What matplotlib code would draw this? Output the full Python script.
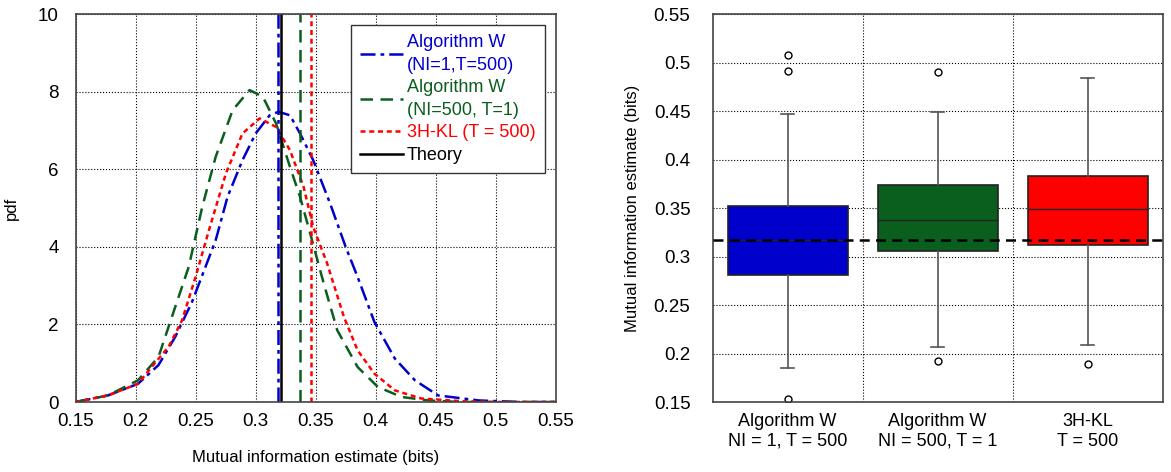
import numpy as np
import matplotlib
matplotlib.use('Agg')
import matplotlib.pyplot as plt

plt.rcParams['font.family'] = ['Liberation Sans', 'DejaVu Sans']

# Left panel: estimated pdfs
x_w1 = [0.15, 0.177, 0.202, 0.219, 0.233, 0.247, 0.2667, 0.2766, 0.289, 0.300, 0.3117,
        0.319, 0.3286, 0.337, 0.348, 0.362, 0.375, 0.385, 0.399, 0.416, 0.4327, 0.452,
        0.486, 0.52, 0.55]
y_w1 = [0.0, 0.17, 0.47, 0.95, 1.68, 2.58, 4.17, 5.29, 6.23, 6.92, 7.39,
        7.48, 7.39, 6.92, 6.23, 5.12, 4.0, 3.22, 2.06, 1.12, 0.56, 0.17,
        0.04, 0.0, 0.0]

x_w500 = [0.15, 0.177, 0.202, 0.219, 0.233, 0.2442, 0.2555, 0.2667, 0.2808, 0.2949,
          0.306, 0.317, 0.3286, 0.337, 0.3455, 0.3568, 0.368, 0.385, 0.4018, 0.4215,
          0.444, 0.47, 0.55]
y_w500 = [0.0, 0.17, 0.56, 1.16, 2.45, 3.48, 5.03, 6.32, 7.52, 8.04,
          7.87, 7.18, 6.06, 5.29, 4.34, 3.05, 1.85, 0.90, 0.39, 0.13,
          0.04, 0.0, 0.0]

x_kl = [0.15, 0.177, 0.202, 0.2133, 0.2274, 0.2386, 0.2499, 0.2611, 0.2752, 0.289,
        0.3033, 0.317, 0.3286, 0.3399, 0.348, 0.3596, 0.3736, 0.385, 0.399, 0.416,
        0.438, 0.472, 0.50, 0.55]
y_kl = [0.0, 0.17, 0.47, 0.9, 1.42, 2.1, 3.22, 4.43, 5.89, 6.92,
        7.31, 7.09, 6.49, 5.55, 4.51, 3.57, 2.19, 1.33, 0.73, 0.30,
        0.09, 0.02, 0.0, 0.0]

mean_w1 = 0.319
mean_w500 = 0.3373
mean_kl = 0.3463
theory_left = 0.321

# Right panel: box plot statistics
box_labels = ['Algorithm W\nNI = 1, T = 500', 'Algorithm W\nNI = 500, T = 1', '3H-KL\nT = 500']
q1 = [0.2814, 0.3061, 0.3123]
med = [0.3175, 0.3381, 0.3491]
q3 = [0.3522, 0.3736, 0.3835]
wlo = [0.1847, 0.2067, 0.2092]
whi = [0.4468, 0.4489, 0.4843]
fliers = [[0.5077, 0.4912, 0.1531], [0.4902, 0.1926], [0.1892]]
theory_right = 0.3168

blue = '#0000cc'
green = '#0a5e1e'
red = '#ff0000'
box_colors = [blue, green, red]

fig = plt.figure(figsize=(11.71, 4.72), dpi=100)
ax1 = fig.add_axes([0.0646, 0.1483, 0.4099, 0.822])
ax2 = fig.add_axes([0.6086, 0.1483, 0.3843, 0.822])

for ax in (ax1, ax2):
    for s in ax.spines.values():
        s.set_color('#444444')
        s.set_linewidth(1.2)
    ax.tick_params(length=0, labelsize=13.5)

# ---- left
l1, = ax1.plot(x_w1, y_w1, color=blue, ls=(0, (6, 2, 1.5, 2)), lw=1.8,
               label='Algorithm W\n(NI=1,T=500)')
l2, = ax1.plot(x_w500, y_w500, color=green, ls=(0, (5, 3)), lw=1.8,
               label='Algorithm W\n(NI=500, T=1)')
l3, = ax1.plot(x_kl, y_kl, color=red, ls=(0, (2, 1.5)), lw=1.8,
               label='3H-KL (T = 500)')
ax1.axvline(mean_w1, color=blue, ls=(0, (6, 2, 1.5, 2)), lw=1.8)
ax1.axvline(mean_w500, color=green, ls=(0, (5, 3)), lw=1.8)
ax1.axvline(mean_kl, color=red, ls=(0, (2, 1.5)), lw=1.8)
l4 = ax1.axvline(theory_left, color='black', lw=1.8, label='Theory')

ax1.set_xlim(0.15, 0.55)
ax1.set_ylim(0, 10)
ax1.set_xticks(np.arange(0.15, 0.551, 0.05))
ax1.set_xticklabels(['0.15', '0.2', '0.25', '0.3', '0.35', '0.4', '0.45', '0.5', '0.55'])
ax1.set_yticks([0, 2, 4, 6, 8, 10])
ax1.tick_params(axis='y', pad=12)
ax1.tick_params(axis='x', pad=8)
ax1.grid(True, color='black', ls=':', lw=0.8)
ax1.set_axisbelow(True)
ax1.set_xlabel('Mutual information estimate (bits)', fontsize=12, labelpad=14)
ax1.set_ylabel('pdf', fontsize=12, labelpad=14)

leg = ax1.legend(handles=[l1, l2, l3, l4], loc='upper right', bbox_to_anchor=(0.977, 0.972),
                 fontsize=13, frameon=True, fancybox=False, framealpha=1,
                 edgecolor='#333333', handlelength=2.4, handletextpad=0.2,
                 borderpad=0.5, labelspacing=0.3, borderaxespad=0)
leg.get_frame().set_linewidth(1.0)
for txt, c in zip(leg.get_texts(), [blue, green, red, 'black']):
    txt.set_color(c)
    txt.set_linespacing(1.45)

# ---- right
stats = []
for i in range(3):
    stats.append(dict(med=med[i], q1=q1[i], q3=q3[i], whislo=wlo[i], whishi=whi[i],
                      fliers=fliers[i], label=box_labels[i]))
bp = ax2.bxp(stats, positions=[1, 2, 3], widths=0.8, patch_artist=True,
             capwidths=0.09,
             boxprops=dict(edgecolor='#222222', linewidth=1.2),
             medianprops=dict(color='#222222', linewidth=1.0),
             whiskerprops=dict(color='#555555', linewidth=1.2),
             capprops=dict(color='#555555', linewidth=1.2),
             flierprops=dict(marker='o', markerfacecolor='white', markeredgecolor='black',
                             markersize=5, markeredgewidth=1.0))
for patch, c in zip(bp['boxes'], box_colors):
    patch.set_facecolor(c)
    patch.set_zorder(2)

ax2.axhline(theory_right, color='black', ls=(0, (4, 2.5)), lw=1.8, zorder=3)

ax2.set_xlim(0.5, 3.5)
ax2.set_ylim(0.15, 0.55)
ax2.set_yticks(np.arange(0.15, 0.551, 0.05))
ax2.set_yticklabels(['0.15', '0.2', '0.25', '0.3', '0.35', '0.4', '0.45', '0.5', '0.55'])
ax2.set_xticks([1.5, 2.5], minor=True)
ax2.tick_params(axis='x', which='major', labelsize=13, pad=8)
ax2.tick_params(axis='x', which='minor', length=0)
ax2.tick_params(axis='y', pad=16)
ax2.grid(True, axis='y', color='black', ls=':', lw=0.8)
ax2.grid(True, axis='x', which='minor', color='black', ls=':', lw=0.8)
ax2.set_axisbelow(True)
ax2.set_ylabel('Mutual information estimate (bits)', fontsize=12, labelpad=10)

fig.savefig('out.png', dpi=100)
